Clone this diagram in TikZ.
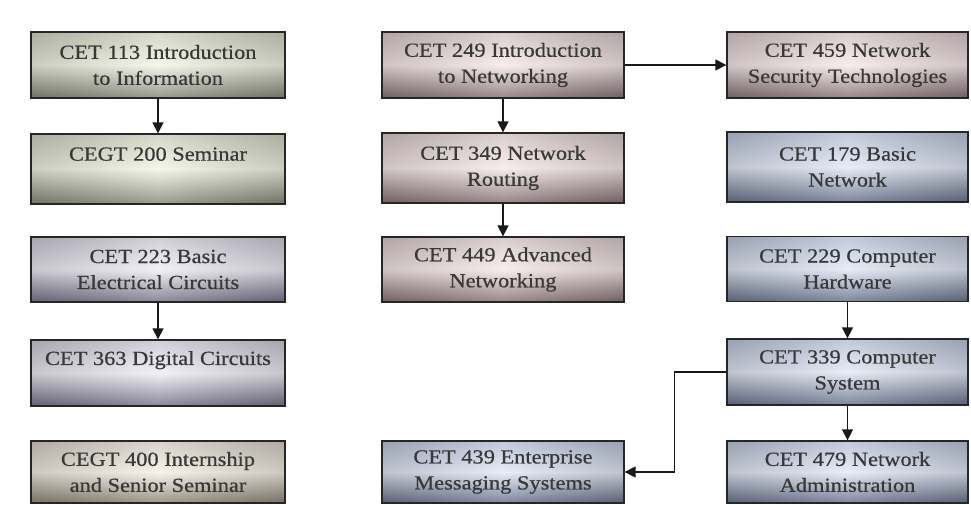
\documentclass[tikz,border=0pt]{standalone}
\usepackage{fontspec}
\setmainfont[FakeStretch=1.12,FakeBold=0.6]{Liberation Serif}
\usetikzlibrary{arrows.meta}
\definecolor{txt}{HTML}{383838}
\definecolor{gTop}{HTML}{CDD1BD}\definecolor{gMid}{HTML}{F2F5E6}\definecolor{gBot}{HTML}{858676}
\definecolor{lTop}{HTML}{C8C6D2}\definecolor{lMid}{HTML}{F0EEF6}\definecolor{lBot}{HTML}{747186}
\definecolor{tTop}{HTML}{D2CCC0}\definecolor{tMid}{HTML}{F5F0E7}\definecolor{tBot}{HTML}{8D8475}
\definecolor{rTop}{HTML}{D4C4C6}\definecolor{rMid}{HTML}{F7EAEB}\definecolor{rBot}{HTML}{847073}
\definecolor{bTop}{HTML}{B6C0D4}\definecolor{bMid}{HTML}{E3E9F5}\definecolor{bBot}{HTML}{66728A}
\begin{document}
\begin{tikzpicture}[x=1pt,y=-1pt,
  course/.style={rectangle, draw=black!85, line width=1.3pt, inner sep=0pt, align=center,
    text=txt, font=\fontsize{20}{26}\selectfont,
    path picture={\shade[left color=black, right color=black, middle color=white, fill opacity=0.16]
      (path picture bounding box.south west) rectangle (path picture bounding box.north east);}},
  wL/.style={minimum width=254pt},
  wM/.style={minimum width=242pt},
  wR/.style={minimum width=241pt},
  r1/.style={minimum height=66pt},
  r2/.style={minimum height=70pt},
  r3/.style={minimum height=65pt},
  r4/.style={minimum height=66pt},
  r5/.style={minimum height=62pt},
  oneline/.style={text depth=30pt},
  greenbox/.style={top color=gTop, bottom color=gBot, middle color=gMid},
  lavbox/.style={top color=lTop, bottom color=lBot, middle color=lMid},
  tanbox/.style={top color=tTop, bottom color=tBot, middle color=tMid},
  rosebox/.style={top color=rTop, bottom color=rBot, middle color=rMid},
  bluebox/.style={top color=bTop, bottom color=bBot, middle color=bMid},
  arr/.style={-{Triangle[length=11pt,width=11pt]}, line width=1.4pt, black!90}
]
\useasboundingbox (0,0) rectangle (971,505);

\node[course,wL,r1,greenbox] (c113) at (158,65) {CET 113 Introduction\\to Information};
\node[course,wL,r2,greenbox,oneline] (c200) at (158,169) {CEGT 200 Seminar};
\node[course,wL,r3,lavbox] (c223) at (158,269.5) {CET 223 Basic\\Electrical Circuits};
\node[course,wL,r4,lavbox,oneline] (c363) at (158,373) {CET 363 Digital Circuits};
\node[course,wL,r5,tanbox] (c400) at (158,472) {CEGT 400 Internship\\and Senior Seminar};

\node[course,wM,r1,rosebox] (c249) at (503,65) {CET 249 Introduction\\to Networking};
\node[course,wM,r2,rosebox] (c349) at (503,168) {CET 349 Network\\Routing};
\node[course,wM,r3,rosebox] (c449) at (503,269.5) {CET 449 Advanced\\Networking};
\node[course,wM,r5,bluebox] (c439) at (503,472) {CET 439 Enterprise\\Messaging Systems};

\node[course,wR,r1,rosebox] (c459) at (847.5,65) {CET 459 Network\\Security Technologies};
\node[course,wR,r2,bluebox] (c179) at (847.5,167) {CET 179 Basic\\Network};
\node[course,wR,r3,bluebox] (c229) at (847.5,269) {CET 229 Computer\\Hardware};
\node[course,wR,r4,bluebox] (c339) at (847.5,372) {CET 339 Computer\\System};
\node[course,wR,r5,bluebox] (c479) at (847.5,472) {CET 479 Network\\Administration};

\draw[arr] (c113.south) -- (c200.north);
\draw[arr] (c223.south) -- (c363.north);
\draw[arr] (c249.south) -- (c349.north);
\draw[arr] (c349.south) -- (c449.north);
\draw[arr] (c249.east) -- (c459.west);
\draw[arr] (c229.south) -- (c339.north);
\draw[arr] (c339.south) -- (c479.north);
\draw[arr] (c339.west) -- ++(-52,0) |- (c439.east);
\end{tikzpicture}
\end{document}
